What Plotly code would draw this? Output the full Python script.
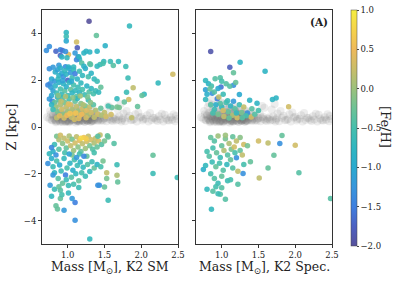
import plotly.graph_objects as go

# ---------------- data: K2 SM panel (mass, Z, [Fe/H]) ----------------
sm_pts = [
(1.29,4.52,-2.0),(1.84,4.32,-0.7),(0.98,4.04,-0.75),(0.98,3.87,-0.6),(1.39,3.91,-0.3),(0.98,3.68,-1.0),(1.12,3.63,0.3),
(0.75,3.44,-1.3),(1.51,3.47,-0.85),(0.71,3.27,-1.3),(0.84,3.24,-1.7),(0.90,3.30,-1.4),(0.93,3.27,-1.6),(1.13,3.39,-1.8),
(1.40,3.24,-0.8),(1.25,3.24,-0.8),(0.90,3.06,-1.7),(1.01,3.10,0.4),(1.14,2.99,-1.7),(1.16,2.90,-0.7),(1.12,2.87,-1.4),
(1.49,2.80,-0.7),(1.58,2.80,-0.6),(1.69,2.80,-0.7),(1.62,2.63,-0.4),(1.79,2.59,-0.6),(1.30,2.70,-0.3),(1.44,2.67,-0.6),
(2.43,2.25,0.3),(1.82,2.09,-0.6),(2.23,1.88,-0.7),(1.89,1.68,0.2),(1.80,1.49,-0.6),(2.04,1.40,-0.7),(2.01,1.35,-0.3),
(1.67,1.21,-0.7),(1.83,1.17,0.3),(1.77,1.07,-0.3),(1.95,0.88,-0.3),(1.67,0.85,-0.2),(1.70,0.83,-0.2),(1.60,0.83,-0.3),
(1.87,0.40,0.2),(1.59,0.53,0.3),
(0.97,3.23,-1.3),(1.10,3.16,-1.2),(1.22,3.16,-0.8),(1.30,3.20,-0.8),(0.92,2.99,-0.8),(0.99,2.96,-0.7),(1.15,3.00,-0.8),
(1.19,2.74,-0.4),(1.31,2.67,-0.4),(1.48,2.71,-0.5),(0.88,2.64,-1.2),(0.97,2.58,-1.3),(0.75,2.49,-1.3),(1.01,2.56,-0.8),
(1.08,2.56,-0.7),(1.22,2.60,-0.8),(1.40,2.60,-0.7),
(0.80,2.55,-1.2),(0.83,2.35,-0.9),(0.86,2.45,-1.1),(0.88,2.20,-0.8),(0.90,2.52,-0.9),(0.92,2.30,-1.0),(0.94,2.15,-1.3),
(0.96,2.40,-0.7),(0.98,2.25,-0.8),(1.00,2.00,-1.7),(1.02,2.50,-0.9),(1.04,2.32,-1.2),(1.06,2.10,-0.6),(1.08,2.45,-0.7),
(1.10,2.28,-1.5),(1.13,2.05,-0.8),(1.16,2.38,-0.6),(1.20,2.20,-0.7),(1.24,2.50,-0.9),(1.28,2.15,-0.5),(1.32,2.30,-0.8),
(0.78,2.05,-1.0),(0.82,1.95,-1.2),(0.87,2.05,-0.7),(0.76,1.85,-1.3),(0.73,1.80,-1.4),(0.77,1.70,-1.2),(1.36,2.05,-0.7),
(1.40,1.95,-0.6),
(0.80,1.55,-1.1),(0.83,1.75,-0.8),(0.85,1.45,-0.6),(0.88,1.90,-0.9),(0.90,1.62,-0.5),(0.92,1.40,-0.7),(0.94,1.85,-0.8),
(0.96,1.55,-0.4),(0.98,1.72,-0.9),(1.00,1.35,-0.6),(1.02,1.90,-0.7),(1.04,1.60,-0.3),(1.06,1.45,-0.8),(1.08,1.80,-0.5),
(1.10,1.55,-0.7),(1.12,1.30,-0.4),(1.14,1.70,-0.6),(1.16,1.48,-0.8),(1.18,1.88,-0.7),(1.20,1.60,-0.5),(1.23,1.38,-0.6),
(1.26,1.75,-0.8),(1.29,1.50,-0.4),(1.32,1.65,-0.7),(1.35,1.42,-0.5),(1.38,1.55,-0.6),(1.42,1.48,-0.7),(1.45,1.70,-0.3),
(0.78,1.35,-1.0),(0.75,1.20,-1.2),(0.79,1.10,-1.4),(0.86,1.28,-0.9),(1.05,1.95,-1.0),(0.93,1.98,-1.1),
(0.82,1.05,-0.3),(0.84,0.85,0.0),(0.86,0.65,-0.2),(0.88,1.15,-0.4),(0.90,0.95,0.1),(0.92,0.75,0.3),(0.94,0.55,-0.1),
(0.96,1.05,-0.2),(0.98,0.85,0.2),(1.00,0.65,0.0),(1.02,1.20,-0.5),(1.04,0.95,0.3),(1.06,0.75,0.1),(1.08,0.55,0.4),
(1.10,1.10,-0.3),(1.12,0.88,0.2),(1.14,0.68,0.0),(1.16,0.48,0.3),(1.18,1.00,-0.1),(1.20,0.78,0.3),(1.22,0.60,0.2),
(1.24,0.90,-0.2),(1.26,0.70,0.4),(1.28,0.50,0.1),(1.30,0.85,0.2),(1.32,0.62,0.3),(1.35,0.95,-0.4),(1.38,0.72,0.1),
(1.41,0.55,0.3),(1.45,0.80,-0.3),(1.50,0.62,0.2),(1.55,0.90,-0.5),(0.85,0.40,0.2),(0.95,0.38,0.3),(1.05,0.42,0.2),
(1.15,0.36,0.4),(1.25,0.40,0.3),(0.80,0.75,-0.6),(0.78,0.95,-0.8),(0.93,1.25,-0.6),(1.13,1.22,-0.7),(1.28,1.15,-0.6),
(0.99,0.50,0.5),(1.09,0.32,0.3),(1.19,0.55,0.5),(1.36,0.42,0.2),(1.46,0.50,0.1),(1.52,0.45,0.3),
(0.87,1.35,-0.1),(0.97,1.30,0.1),(1.07,1.25,-0.1),(1.17,1.32,0.0),(1.27,1.28,-0.2),(0.91,1.10,0.2),(1.01,0.98,0.4),
(1.11,0.60,0.6),(1.21,0.95,0.1),(1.31,1.05,-0.1),(0.89,0.48,0.4),(1.03,0.58,0.6),
(0.85,-0.40,-0.2),(0.88,-0.55,0.1),(0.90,-0.35,0.3),(0.93,-0.70,-0.1),(0.95,-0.48,0.2),(0.98,-0.90,-0.3),(1.00,-0.60,0.3),
(1.02,-0.38,0.1),(1.04,-0.80,0.2),(1.06,-0.52,-0.2),(1.08,-1.00,0.0),(1.10,-0.68,0.3),(1.12,-0.42,0.2),(1.14,-0.85,-0.1),
(1.16,-0.58,0.4),(1.18,-1.05,-0.3),(1.20,-0.72,0.2),(1.22,-0.45,0.6),(1.24,-0.92,0.0),(1.26,-0.62,0.3),(1.28,-0.40,0.2),
(1.30,-0.80,-0.2),(1.32,-0.55,0.3),(1.34,-0.95,-0.4),(1.36,-0.68,0.1),(1.38,-0.48,0.2),(1.40,-0.85,-0.3),(1.42,-0.60,0.3),
(1.44,-0.34,0.2),(1.46,-0.75,-0.4),(1.25,-0.50,0.7),(1.18,-0.48,0.8),(0.96,-1.10,-0.5),(1.06,-1.20,-0.2),(1.16,-1.15,-0.5),
(1.26,-1.25,-0.3),(1.36,-1.10,-0.5),(0.88,-0.95,-0.4),(0.82,-0.75,-0.6),(0.80,-1.05,-0.9),(0.84,-1.20,-1.3),(0.78,-0.88,-1.4),
(1.55,-0.43,-0.3),(1.54,-0.37,-0.3),(1.63,-0.71,-0.4),(1.41,-0.40,-0.4),(1.50,-0.60,-0.2),
(0.73,-1.56,-1.3),(0.75,-1.14,-0.7),(0.78,-1.35,-0.9),(0.80,-1.70,-0.6),(0.82,-1.95,-0.8),(0.85,-1.45,-0.5),(0.87,-2.20,-0.4),
(0.89,-1.62,-1.0),(0.91,-1.88,-0.6),(0.93,-2.40,-0.3),(0.95,-1.35,-0.7),(0.97,-2.05,-1.5),(0.99,-1.75,-0.5),(1.01,-2.50,-0.6),
(1.03,-1.55,-0.8),(1.05,-2.15,-0.4),(1.07,-1.85,-0.9),(1.09,-1.40,-0.5),(1.11,-2.00,-0.7),(1.13,-1.65,-0.6),(1.15,-2.30,-0.3),
(1.17,-1.50,-0.8),(1.19,-1.95,-0.5),(1.21,-1.72,-0.7),(1.24,-2.10,-0.6),(1.27,-1.60,-0.4),(1.30,-1.90,-0.7),(1.33,-1.48,-0.6),
(1.36,-1.75,-0.3),(1.40,-1.60,-0.8),(1.45,-1.70,-0.5),(1.48,-1.45,-0.2),(1.67,-1.61,-0.6),(1.68,-2.35,-0.3),(1.67,-2.06,0.1),
(1.55,-3.13,-0.6),(1.50,-2.56,-0.3),(1.43,-2.49,-1.3),(1.41,-2.49,-1.3),(1.53,-2.20,-0.2),(1.53,-1.96,0.2),(2.16,-1.21,-0.3),
(2.16,-1.99,-0.6),(2.49,-2.16,-0.6),(1.10,-3.98,-1.3),(1.30,-4.79,-0.7),(0.95,-3.56,-1.2),(1.10,-3.23,-1.5),(0.86,-3.50,-0.3),
(0.84,-3.37,-0.3),(0.78,-2.96,-0.7),(0.82,-2.66,-0.6),(0.76,-2.49,-1.2),(0.90,-3.06,-0.3),(1.01,-2.82,-0.7),(1.06,-3.06,-1.2),
(1.15,-2.59,-0.6),(0.90,-2.70,-0.4),(0.92,-2.90,-0.5),(0.88,-2.55,-0.3),(1.22,-1.25,-1.4),(1.12,-1.30,-1.2),(1.02,-1.15,-1.1),
(0.80,-2.05,-1.2),(0.98,-2.25,-0.6),(1.08,-2.45,-0.5),
]

# ---------------- data: K2 Spec. panel ----------------
spec_pts = [
(0.85,3.23,-1.9),(1.11,2.55,-1.8),(1.25,2.77,-0.8),(1.59,2.38,-0.8),(0.78,1.99,-0.7),(0.91,2.06,-0.4),(0.98,2.10,-0.4),
(1.16,2.32,-0.3),(0.78,1.59,-1.1),(0.87,1.44,-1.3),(0.94,1.21,-1.5),(0.99,1.71,-1.6),(1.16,1.78,-1.3),(1.06,1.85,-0.4),
(1.11,1.74,-0.4),(1.19,1.90,-0.3),(0.78,1.17,-0.7),(0.96,1.28,0.2),(1.24,1.39,-1.0),(1.69,1.18,-0.8),(1.74,1.24,-0.8),
(1.38,1.14,-0.8),(1.48,1.02,-0.8),(1.41,0.78,-0.4),(1.91,0.87,0.3),(1.35,0.60,-1.3),(1.40,0.43,0.3),
(0.82,1.85,-0.8),(0.90,1.50,-0.4),(0.95,1.65,-1.0),(1.02,1.40,-0.6),(0.86,1.75,-0.5),(0.80,1.40,-0.9),(0.84,1.62,-0.3),
(1.00,1.95,-0.5),
(0.85,0.95,-0.4),(0.90,0.75,-0.6),(0.95,0.55,-0.2),(1.00,0.85,-0.7),(1.03,0.45,0.2),(1.06,1.05,-0.5),(1.09,0.65,-0.3),
(1.12,0.90,-0.8),(1.15,0.50,0.1),(1.18,0.78,-0.4),(1.21,0.40,0.3),(1.24,0.95,-0.6),(1.27,0.62,-0.2),(1.30,0.85,0.2),
(1.33,0.48,-0.5),(1.02,0.70,0.3),(0.98,1.00,-0.4),(0.88,0.60,-0.5),(1.10,0.38,-0.3),(1.20,0.60,-0.7),(1.28,0.40,-0.4),
(1.45,0.55,-0.4),(1.50,0.70,-0.5),(0.92,0.95,-0.9),(1.08,1.12,-0.6),(1.16,1.10,-1.2),
(1.82,-0.36,-0.3),(1.50,-0.60,0.3),(1.63,-0.68,0.2),(1.79,-0.71,-1.3),(2.00,-0.78,0.3),(1.71,-1.21,-0.3),(2.05,-1.95,-0.4),
(2.48,-3.06,-0.4),(1.51,-2.18,0.2),(1.63,-1.75,-0.3),(1.29,-1.99,-1.3),(1.22,-1.89,0.2),(1.20,-1.31,-1.3),(1.39,-1.48,-0.3),
(0.75,-1.82,-0.9),(0.86,-3.51,-0.7),(1.05,-3.09,-0.4),(0.80,-2.66,-0.7),(0.98,-2.87,-0.4),
(0.85,-0.45,-0.3),(0.90,-0.60,-0.4),(0.95,-0.38,0.0),(1.00,-0.80,-0.3),(1.05,-0.50,-0.2),(1.10,-0.70,0.1),(1.15,-0.42,-0.3),
(1.20,-0.60,0.2),(1.25,-0.45,-0.1),(1.30,-0.75,0.3),(0.88,-0.90,-0.5),(0.93,-1.10,-0.3),(0.98,-1.30,-0.6),(1.03,-1.00,0.1),
(1.08,-1.20,-0.4),(1.13,-0.95,-0.2),(1.18,-1.10,-0.5),(0.83,-1.25,-0.4),(0.87,-1.50,-0.6),(0.92,-1.70,-0.3),(0.97,-1.55,-0.5),
(1.02,-1.85,-0.4),(1.07,-1.60,-0.7),(1.12,-1.40,-0.3),(0.80,-1.05,-0.5),(0.85,-2.00,-0.5),(0.90,-2.20,-0.4),(0.95,-2.40,-0.6),
(1.00,-2.10,-0.3),(1.08,-2.30,-0.6),(0.92,-2.55,-0.5),(0.88,-2.75,-0.4),(0.95,-2.85,-0.6),(1.12,-2.25,-0.5),(1.15,-1.75,-0.4),
(1.25,-1.00,-0.3),(1.28,-1.20,0.2),(1.35,-0.80,-0.2),(1.05,-0.35,0.0),(1.17,-0.85,0.3),(0.78,-1.65,-0.7),(1.22,-2.45,-0.4),
(1.30,-1.60,-0.5),(1.00,-2.60,-0.4),
]

# ---------------- data: grey background sample (mass, Z) ----------------
grey_mass = [0.72,0.75,0.77,0.79,0.80,0.82,0.83,0.84,0.85,0.86,0.87,0.88,0.89,0.90,0.91,0.92,0.93,0.94,0.95,0.96,
             0.97,0.98,0.99,1.00,1.01,1.02,1.03,1.04,1.05,1.06,1.07,1.08,1.09,1.10,1.11,1.12,1.13,1.14,1.15,1.16,
             1.17,1.18,1.19,1.20,1.21,1.22,1.23,1.24,1.25,1.26,1.27,1.28,1.29,1.30,1.31,1.32,1.33,1.34,1.35,1.36,
             0.81,0.84,0.87,0.90,0.93,0.96,0.99,1.02,1.05,1.08,1.11,1.14,1.17,1.20,1.23,1.26,1.29,1.32,1.35,1.38,
             0.83,0.88,0.92,0.97,1.01,1.06,1.10,1.15,1.19,1.24,1.28,1.33,1.37,1.41,1.44,1.47,1.50,1.53,1.56,1.59,
             0.86,0.91,0.95,1.00,1.04,1.09,1.13,1.18,1.22,1.27,1.31,1.39,1.43,1.48,1.52,1.57,1.61,1.65,1.69,1.73,
             1.62,1.66,1.70,1.74,1.78,1.82,1.86,1.90,1.94,1.98,2.02,2.06,2.10,2.14,2.18,2.22,2.26,2.30,2.34,2.38,
             2.42,2.46,2.49,1.76,1.84,1.92,2.00,2.08,2.16,2.24,2.32,2.40,2.47,1.55,1.68,1.80,1.96,2.12,2.28,2.44,
             0.94,1.03,1.12,1.21,1.30,0.98,1.07,1.16,1.25,1.46,1.58,1.72,0.89,1.01,1.14,1.27,
             0.78,0.81,0.85,0.88,0.92,0.95,0.99,1.02,1.06,1.09,1.13,1.16,1.20,1.23,1.27,1.30,1.34,1.37,1.41,1.45,
             0.80,0.84,0.87,0.91,0.94,0.98,1.01,1.05,1.08,1.12,1.15,1.19,1.22,1.26,1.29,1.33,1.36,1.40,1.44,1.49,
             0.76,0.90,1.04,1.18,1.32,0.97,1.11,1.25,1.39,0.83,1.54,1.64,1.75,1.88,2.03,2.20,2.36]
grey_z =    [0.42,0.35,0.55,0.28,0.48,0.33,0.62,0.25,0.45,0.38,0.70,0.30,0.52,0.22,0.40,0.58,0.27,0.46,0.35,0.66,
             0.24,0.50,0.31,0.43,0.72,0.26,0.55,0.37,0.29,0.61,0.41,0.23,0.49,0.34,0.68,0.28,0.45,0.36,0.57,0.25,
             0.43,0.32,0.63,0.27,0.39,0.52,0.24,0.44,0.31,0.58,0.26,0.40,0.34,0.50,0.23,0.37,0.29,0.46,0.27,0.35,
             0.85,0.20,0.95,0.62,0.21,0.80,1.05,0.20,0.88,0.64,0.19,0.78,0.92,0.60,0.21,0.75,0.56,0.22,0.66,0.30,
             0.30,0.45,0.33,0.22,0.58,0.32,0.80,0.22,0.46,0.65,0.33,0.28,0.42,0.26,0.48,0.31,0.38,0.25,0.44,0.29,
             1.15,0.53,1.20,0.30,1.02,0.40,0.26,0.70,0.38,0.29,0.58,0.54,0.33,0.27,0.55,0.34,0.26,0.42,0.30,0.24,
             0.36,0.28,0.45,0.31,0.25,0.39,0.29,0.33,0.24,0.41,0.28,0.35,0.23,0.30,0.38,0.26,0.32,0.24,0.36,0.28,
             0.31,0.25,0.34,0.58,0.48,0.55,0.44,0.50,0.40,0.46,0.52,0.42,0.47,0.90,0.75,0.68,0.62,0.60,0.57,0.55,
             0.30,0.27,0.31,0.28,0.30,0.25,0.33,0.26,0.31,0.66,0.82,0.98,0.26,0.24,0.29,0.27,
             0.30,0.38,0.27,0.34,0.29,0.41,0.26,0.36,0.30,0.39,0.27,0.33,0.29,0.37,0.28,0.32,0.26,0.35,0.30,0.28,
             0.52,0.47,0.60,0.44,0.55,0.48,0.63,0.46,0.53,0.50,0.61,0.45,0.56,0.49,0.43,0.54,0.47,0.41,0.38,0.36,
             0.68,0.82,0.74,0.79,0.70,0.90,0.86,0.72,0.62,1.00,0.40,0.33,0.37,0.30,0.34,0.31,0.29]

cb_ticks = [-2.0, -1.5, -1.0, -0.5, 0.0, 0.5, 1.0]
y_ticks = [-4, -2, 0, 2, 4]
x_ticks = [1.0, 1.5, 2.0, 2.5]

sm_mass = [p[0] for p in sm_pts]; sm_z = [p[1] for p in sm_pts]; sm_feh = [p[2] for p in sm_pts]
sp_mass = [p[0] for p in spec_pts]; sp_z = [p[1] for p in spec_pts]; sp_feh = [p[2] for p in spec_pts]

cscale = [
    [0.000, "#56519b"], [0.083, "#4c60c2"], [0.167, "#3e7fdf"], [0.250, "#3896dc"],
    [0.333, "#2aaacf"], [0.417, "#30b6c0"], [0.500, "#46bfad"], [0.583, "#6dc296"],
    [0.667, "#9cc17c"], [0.750, "#c9bd69"], [0.833, "#eeb95a"], [0.917, "#f5d34a"],
    [1.000, "#f5ee40"],
]

SERIF = "DejaVu Serif"
TXT = "#222"
W, H = 399, 283
ML, MR, MT, MB = 42, 0, 10, 39
PW = W - ML - MR  # paper width in px

def px(xpix):
    """pixel column -> paper fraction"""
    return (xpix - ML) / PW

fig = go.Figure()

for xa, ya in (("x", "y"), ("x2", "y2")):
    fig.add_trace(go.Scatter(x=grey_mass, y=grey_z, mode="markers", xaxis=xa, yaxis=ya,
                             marker=dict(color="#767676", size=8, opacity=0.13, line=dict(width=0)),
                             hoverinfo="skip", showlegend=False))

marker_common = dict(size=5.5, cmin=-2.0, cmax=1.0, colorscale=cscale, opacity=0.9, line=dict(width=0))
fig.add_trace(go.Scatter(x=sm_mass, y=sm_z, mode="markers", showlegend=False, xaxis="x", yaxis="y",
                         marker=dict(color=sm_feh, showscale=False, **marker_common)))
fig.add_trace(go.Scatter(x=sp_mass, y=sp_z, mode="markers", showlegend=False, xaxis="x2", yaxis="y2",
                         marker=dict(color=sp_feh, showscale=True,
                                     colorbar=dict(x=px(351), xanchor="left", y=0.495, yanchor="middle",
                                                   len=1.01, lenmode="fraction", thickness=6, xpad=0, ypad=0,
                                                   outlinewidth=0.5, outlinecolor="#444",
                                                   tickvals=cb_ticks, tickformat=".1f",
                                                   ticks="outside", ticklen=2, tickcolor="#444",
                                                   tickfont=dict(family=SERIF, size=8.5, color=TXT)),
                                     **marker_common)))

axis_style = dict(showline=True, linecolor="#333", linewidth=1, mirror=True, ticks="outside",
                  ticklen=3, tickcolor="#333", showgrid=False, zeroline=False,
                  tickfont=dict(family=SERIF, size=8.5, color=TXT))

fig.update_layout(
    xaxis=dict(domain=[px(42), px(178)], range=[0.65, 2.5], tickvals=x_ticks, tickformat=".1f",
               anchor="y", **axis_style),
    xaxis2=dict(domain=[px(196), px(332)], range=[0.65, 2.5], tickvals=x_ticks, tickformat=".1f",
                anchor="y2", **axis_style),
    yaxis=dict(domain=[0, 1], range=[-5, 5], tickvals=y_ticks, anchor="x",
               title=dict(text="Z [kpc]", font=dict(family=SERIF, size=13, color=TXT), standoff=4),
               **axis_style),
    yaxis2=dict(domain=[0, 1], range=[-5, 5], tickvals=y_ticks, anchor="x2", matches="y",
                showticklabels=False, **axis_style),
)

# x-axis titles
fig.add_annotation(text="Mass [M<sub>⊙</sub>], K2 SM", xref="x domain", yref="y domain", x=0.5, y=-0.1,
                   xanchor="center", yanchor="middle", showarrow=False,
                   font=dict(family=SERIF, size=12.5, color=TXT))
fig.add_annotation(text="Mass [M<sub>⊙</sub>], K2 Spec.", xref="x2 domain", yref="y2 domain", x=0.5, y=-0.1,
                   xanchor="center", yanchor="middle", showarrow=False,
                   font=dict(family=SERIF, size=12.5, color=TXT))
# colorbar title (reads top to bottom)
fig.add_annotation(text="[Fe/H]", xref="paper", yref="paper", x=px(386), y=0.5,
                   xanchor="center", yanchor="middle", showarrow=False, textangle=90,
                   font=dict(family=SERIF, size=13, color=TXT))
fig.add_annotation(text="<b>(A)</b>", xref="x2 domain", yref="y2 domain", x=0.985, y=0.985,
                   xanchor="right", yanchor="top", showarrow=False,
                   font=dict(family=SERIF, size=10.5, color=TXT))

fig.update_layout(width=W, height=H, margin=dict(l=ML, r=MR, t=MT, b=MB, autoexpand=False),
                  paper_bgcolor="white", plot_bgcolor="white", hovermode=False)

# remove the browser's default 8px body margin so the figure sits at the page origin
fig.write_html("out.html", config={"displayModeBar": False},
               post_script="document.body.style.margin='0px'; document.body.style.overflow='hidden';")
